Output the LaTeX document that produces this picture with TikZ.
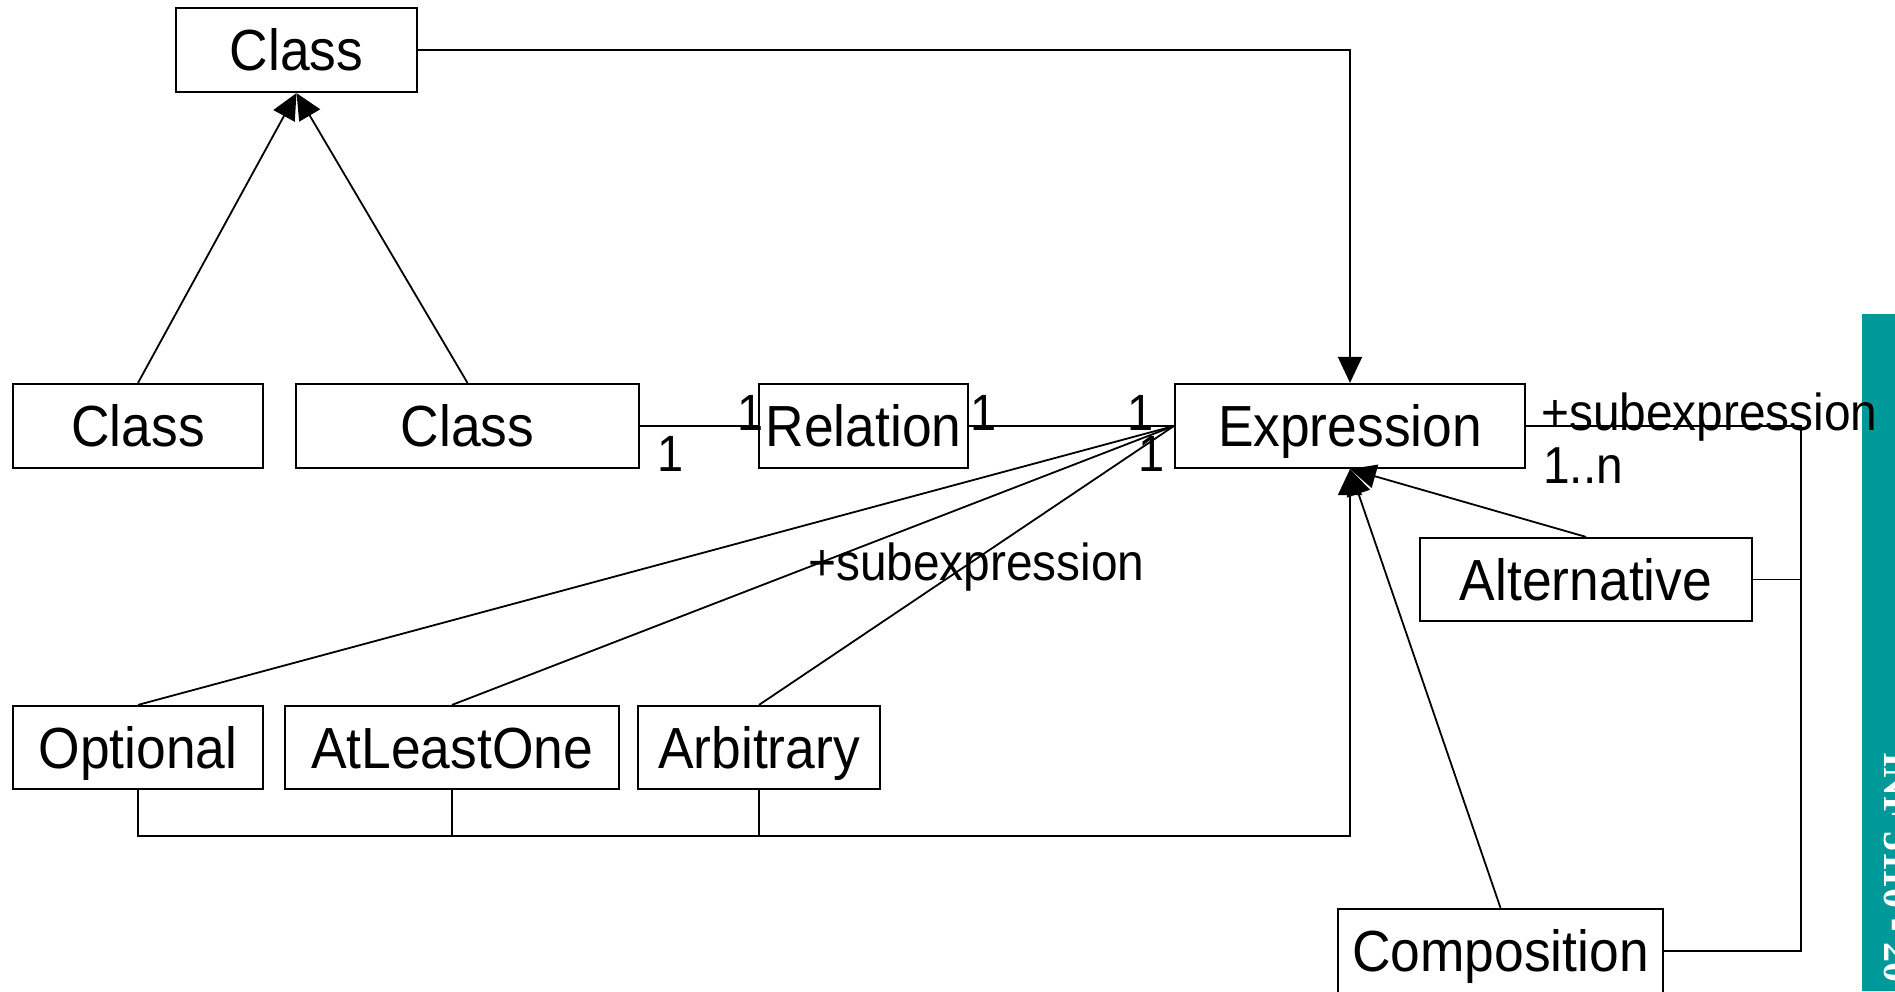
\documentclass[tikz,border=0pt]{standalone}
\usepackage{fontspec}
\setmainfont{Liberation Sans}
\newfontfamily\diagfont[FakeStretch=0.92]{Liberation Sans}
\newfontfamily\barfont{Liberation Serif}
\usetikzlibrary{arrows.meta}
\definecolor{barteal}{RGB}{0,153,153}
\begin{document}
\begin{tikzpicture}[x=1pt,y=-1pt,
  classbox/.style={draw, line width=2.2pt, inner sep=0pt, minimum height=84pt,
    text height=41.5pt, text depth=0pt, font=\diagfont\fontsize{58}{60}\selectfont},
  assoc/.style={line width=1.8pt},
  gen/.style={line width=1.8pt, -{Triangle[length=26pt,width=24pt]}},
  mult/.style={font=\diagfont\fontsize{51}{53}\selectfont, inner sep=0pt, anchor=base},
  role/.style={font=\diagfont\fontsize{52}{54}\selectfont, inner sep=0pt, anchor=base west},
]
\useasboundingbox (0,0) rectangle (1895,991);
\clip (0,0) rectangle (1895,991);

% side bar
\fill[barteal] (1862,314) rectangle (1895,991);
\node[rotate=-90, anchor=base west, inner sep=0pt, text=white,
  font=\barfont\bfseries\fontsize{40}{42}\selectfont] (bartext) at (1884,752) {INF 5110 - 20};

% classes
\node[classbox, minimum width=241pt] (classTop) at (296.5,50) {Class};
\node[classbox, minimum width=250pt] (classL) at (138,426) {Class};
\node[classbox, minimum width=343pt] (classR) at (467.5,426) {Class};
\node[classbox, minimum width=209pt] (relation) at (863.5,426) {Relation};
\node[classbox, minimum width=350pt] (expr) at (1350,426) {Expression};
\node[classbox, minimum width=332pt, minimum height=83pt] (alt) at (1586,579.5) {Alternative};
\node[classbox, minimum width=250pt, minimum height=83pt] (opt) at (138,747.5) {Optional};
\node[classbox, minimum width=334pt, minimum height=83pt] (alo) at (452,747.5) {AtLeastOne};
\node[classbox, minimum width=242pt, minimum height=83pt] (arb) at (759,747.5) {Arbitrary};
\node[classbox, minimum width=325pt] (comp) at (1500.5,951) {Composition};

% generalisations
\draw[gen] (classL.north) -- (classTop.south);
\draw[gen] (classR.north) -- (classTop.south);
\draw[gen] (classTop.east) -| (expr.north);
\draw[gen] (alt.north) -- (expr.south);
\draw[gen] (comp.north) -- (expr.south);

\coordinate (bus) at (1350,836);
\draw[gen] (opt.south) |- (bus) -- (expr.south);
\draw[assoc] (alo.south) -- (alo.south |- bus);
\draw[assoc] (arb.south) -- (arb.south |- bus);

% associations
\draw[assoc] (classR.east) -- (relation.west);
\draw[assoc] (relation.east) -- (expr.west);
\draw[assoc] (opt.north) -- (expr.west);
\draw[assoc] (alo.north) -- (expr.west);
\draw[assoc] (arb.north) -- (expr.west);

\coordinate (rb) at (1801,426);
\draw[assoc] (expr.east) -- (rb) |- (comp.east);
\draw[assoc] (alt.east) -- (rb |- alt.east);

% multiplicities and roles
\node[mult] (m1) at (671,471) {1};
\node[mult] (m2) at (751,430) {1};
\node[mult] (m3) at (984,430) {1};
\node[mult] (m4) at (1141,430) {1};
\node[mult] (m5) at (1152,471) {1};
\node[role] (r1) at (808,580) {+subexpression};
\node[role] (r2) at (1541,430) {+subexpression};
\node[role] (m6) at (1543,483) {1..n};
\end{tikzpicture}
\end{document}
